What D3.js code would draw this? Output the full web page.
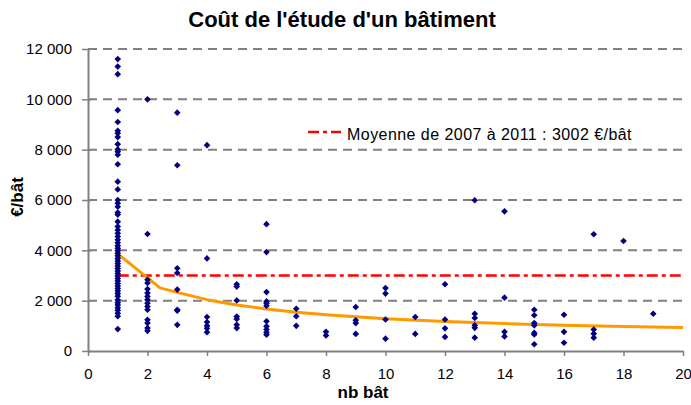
<!DOCTYPE html>
<html>
<head>
<meta charset="utf-8">
<script src="https://cdn.jsdelivr.net/npm/d3@7"></script>
<style>
  body { margin: 0; background: #fff; }
  svg { display: block; font-family: "Liberation Sans", Arial, sans-serif; }
</style>
</head>
<body>
<svg id="chart" width="691" height="405"></svg>
<script>
// ---- Data ----
const title = "Coût de l'étude d'un bâtiment";
const xLabel = "nb bât";
const yLabel = "€/bât";
const legendLabel = "Moyenne de 2007 à 2011 : 3002 €/bât";
const meanValue = 3002;
const xTicks = [0, 2, 4, 6, 8, 10, 12, 14, 16, 18, 20];
const yTicks = [0, 2000, 4000, 6000, 8000, 10000, 12000];

// scatter: buildings count and cost per building
const nb1 = [11600, 11300, 11000, 9570, 9100, 8750, 8650, 8500, 8220, 8010, 7920, 7800, 7420, 6730, 6420, 6000, 5870, 5730, 5500, 5420, 5140, 4950, 4810, 4680, 4550, 4420, 4300, 4180, 4080, 3980, 3880, 3780, 3680, 3580, 3480, 3380, 3280, 3180, 3080, 2980, 2880, 2780, 2680, 2580, 2480, 2380, 2280, 2180, 2030, 1920, 1830, 1720, 1620, 1500, 1380, 870];
const nb2 = [10000, 4650, 2830, 2700, 2460, 2300, 2170, 2040, 1900, 1770, 1640, 1240, 1110, 910, 800];
const nb3 = [9470, 7380, 3290, 3100, 2440, 1640, 1600, 1040];
const nb4 = [8180, 3680, 1350, 1150, 1000, 900, 750];
const nb5 = [2650, 2560, 2010, 1370, 1270, 1040, 910];
const nb6 = [5040, 3930, 2340, 1970, 1900, 1800, 1180, 980, 850, 740, 650];
const nb7 = [1680, 1380, 1000];
const nb8 = [760, 620];
const nb9 = [1750, 1220, 1110, 680];
const nb10 = [2500, 2280, 1250, 490];
const nb11 = [1350, 680];
const nb12 = [2650, 1250, 900, 560];
const nb13 = [5990, 1480, 1310, 1020, 920, 530];
const nb14 = [5550, 2120, 760, 580];
const nb15 = [1640, 1420, 1110, 1020, 720, 660, 270];
const nb16 = [1440, 760, 330];
const nb17 = [4640, 850, 690, 530];
const nb18 = [4370];
const nb19 = [1480];
const columns = [nb1, nb2, nb3, nb4, nb5, nb6, nb7, nb8, nb9, nb10, nb11, nb12, nb13, nb14, nb15, nb16, nb17, nb18, nb19];

// trend curve (orange)
const trendX = [1, 2.42, 3, 4, 5, 6, 7, 8, 10, 12, 14, 16, 18, 20];
const trendY = [3860, 2510, 2330, 2040, 1830, 1670, 1540, 1440, 1280, 1170, 1090, 1020, 970, 930];

// ---- Drawing ----
const svg = d3.select("#chart");
const mLeft = 88, mRight = 683, mTop = 49, mBottom = 351;
const x = d3.scaleLinear().domain([0, 20]).range([mLeft, mRight]);
const y = d3.scaleLinear().domain([0, 12000]).range([mBottom, mTop]);

const points = [];
columns.forEach((vals, i) => vals.forEach(v => points.push({ n: i + 1, v })));

// title
svg.append("text").attr("x", 342).attr("y", 27).attr("text-anchor", "middle")
  .attr("font-size", 22).attr("font-weight", "bold").text(title);

// gridlines
svg.append("g").selectAll("line").data(yTicks.filter(t => t > 0)).join("line")
  .attr("x1", mLeft).attr("x2", mRight)
  .attr("y1", d => y(d)).attr("y2", d => y(d))
  .attr("stroke", "#808080").attr("stroke-width", 2)
  .attr("stroke-dasharray", "9,6");

// axes
const xAxis = d3.axisBottom(x).tickValues(xTicks).tickSize(5).tickSizeOuter(0).tickPadding(12);
const yAxis = d3.axisLeft(y).tickValues(yTicks).tickSize(6).tickSizeOuter(0).tickPadding(10)
  .tickFormat(d => d3.format(",")(d).replace(/,/g, " "));

const gx = svg.append("g").attr("transform", `translate(0,${mBottom})`).call(xAxis);
const gy = svg.append("g").attr("transform", `translate(${mLeft},0)`).call(yAxis);
gy.selectAll(".tick line").attr("x1", 3);
[gx, gy].forEach(g => {
  g.select(".domain").attr("stroke", "#808080").attr("stroke-width", 2);
  g.selectAll(".tick line").attr("stroke", "#808080").attr("stroke-width", 1.5);
  g.selectAll(".tick text").attr("font-size", 15).attr("fill", "#000")
    .attr("font-family", "Liberation Sans, Arial, sans-serif");
});

// mean line
svg.append("line")
  .attr("x1", x(1)).attr("x2", x(20))
  .attr("y1", y(meanValue)).attr("y2", y(meanValue))
  .attr("stroke", "#ff0000").attr("stroke-width", 2.5)
  .attr("stroke-dasharray", "11,4,4,4");

// trend line
svg.append("path")
  .datum(trendX.map((d, i) => [d, trendY[i]]))
  .attr("d", d3.line().x(d => x(d[0])).y(d => y(d[1])))
  .attr("fill", "none").attr("stroke", "#ff9900").attr("stroke-width", 3)
  .attr("stroke-linejoin", "round");

// points
svg.append("g").selectAll("path").data(points).join("path")
  .attr("transform", d => `translate(${x(d.n)},${y(d.v)})`)
  .attr("d", d3.symbol(d3.symbolDiamond2, 28))
  .attr("fill", "#000080");

// legend
svg.append("line").attr("x1", 308).attr("x2", 341).attr("y1", 132).attr("y2", 132)
  .attr("stroke", "#ff0000").attr("stroke-width", 2.5).attr("stroke-dasharray", "11,4,4,4");
svg.append("text").attr("x", 347).attr("y", 140).attr("font-size", 16)
  .attr("letter-spacing", 0.45).text(legendLabel);

// axis titles
svg.append("text").attr("x", 363).attr("y", 398).attr("text-anchor", "middle")
  .attr("font-size", 17).attr("font-weight", "bold").text(xLabel);
svg.append("text").attr("transform", "translate(23,197) rotate(-90)").attr("text-anchor", "middle")
  .attr("font-size", 17).attr("font-weight", "bold").text(yLabel);
</script>
</body>
</html>
